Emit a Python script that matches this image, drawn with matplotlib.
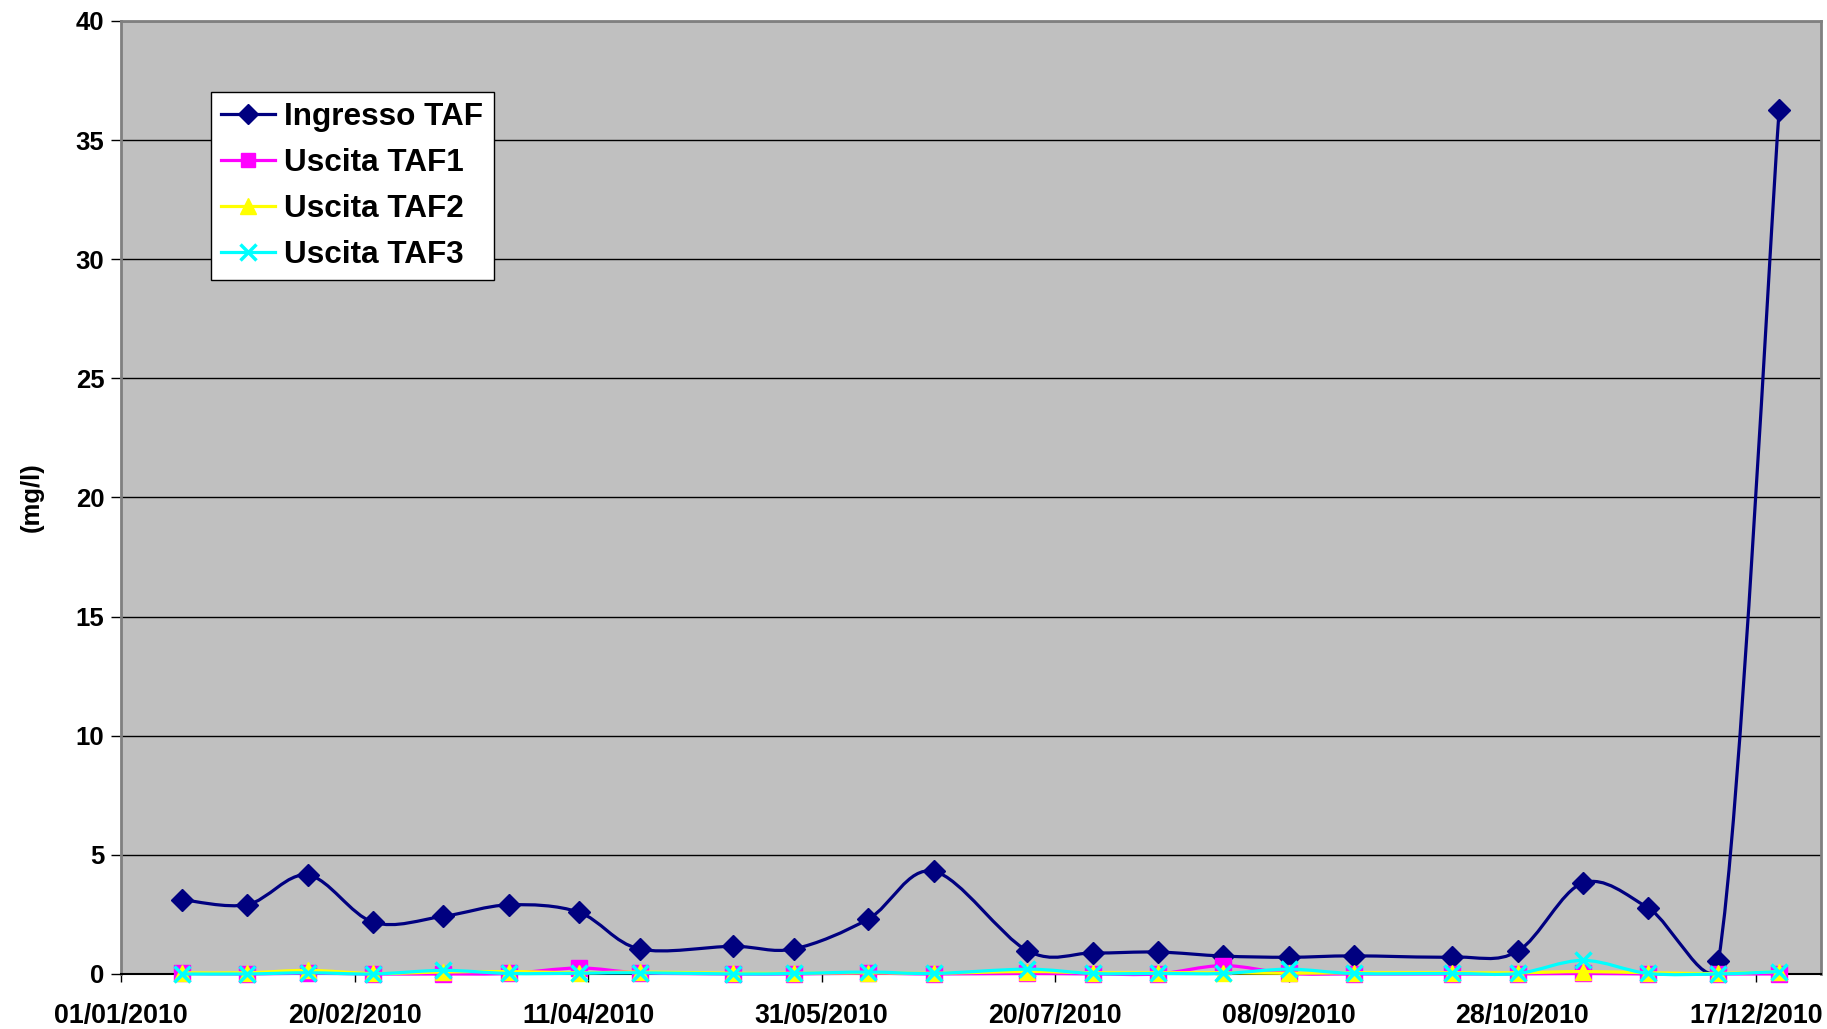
import numpy as np
import matplotlib
matplotlib.use("Agg")
import matplotlib.pyplot as plt
import matplotlib.dates as mdates
from matplotlib.path import Path
from matplotlib.patches import PathPatch
from matplotlib.lines import Line2D
from datetime import datetime

plt.rcParams['font.family'] = ['Liberation Sans', 'DejaVu Sans']
plt.rcParams['font.weight'] = 'bold'

# sampling dates
dates = ["14/01/2010", "28/01/2010", "10/02/2010", "24/02/2010", "11/03/2010",
         "25/03/2010", "09/04/2010", "22/04/2010", "12/05/2010", "25/05/2010",
         "10/06/2010", "24/06/2010", "14/07/2010", "28/07/2010", "11/08/2010",
         "25/08/2010", "08/09/2010", "22/09/2010", "13/10/2010", "27/10/2010",
         "10/11/2010", "24/11/2010", "09/12/2010", "22/12/2010"]

ingresso_taf = [3.12, 2.91, 4.15, 2.17, 2.42, 2.90, 2.59, 1.05, 1.16, 1.05,
                2.31, 4.31, 0.98, 0.88, 0.92, 0.75, 0.70, 0.76, 0.71, 0.95,
                3.82, 2.77, 0.55, 36.25]
uscita_taf1 = [0.02, 0.0, 0.03, 0.0, 0.0, 0.02, 0.25, 0.05, 0.0, 0.0,
               0.03, 0.0, 0.02, 0.0, 0.0, 0.35, 0.02, 0.0, 0.0, 0.0,
               0.02, 0.0, 0.0, 0.0]
uscita_taf2 = [0.05, 0.05, 0.15, 0.02, 0.08, 0.10, 0.05, 0.08, 0.03, 0.03,
               0.05, 0.03, 0.10, 0.05, 0.05, 0.05, 0.03, 0.05, 0.05, 0.05,
               0.10, 0.05, 0.02, 0.10]
uscita_taf3 = [0.0, 0.0, 0.05, 0.0, 0.15, 0.02, 0.03, 0.05, 0.0, 0.02,
               0.08, 0.02, 0.20, 0.02, 0.02, 0.02, 0.20, 0.02, 0.02, 0.02,
               0.57, 0.02, 0.0, 0.10]

x_ticks = ["01/01/2010", "20/02/2010", "11/04/2010", "31/05/2010",
           "20/07/2010", "08/09/2010", "28/10/2010", "17/12/2010"]
y_ticks = [0, 5, 10, 15, 20, 25, 30, 35, 40]


def to_num(labels):
    return mdates.date2num([datetime.strptime(d, "%d/%m/%Y") for d in labels])


def smooth_path(ax, x, y):
    # Excel-like smoothed line: cubic bezier through points, arms limited
    pts = ax.transData.transform(np.column_stack([x, y]))
    n = len(pts)
    verts = [pts[0]]
    codes = [Path.MOVETO]
    for i in range(n - 1):
        p0 = pts[max(i - 1, 0)]
        p1 = pts[i]
        p2 = pts[i + 1]
        p3 = pts[min(i + 2, n - 1)]
        seg = np.linalg.norm(p2 - p1)
        a = (p2 - p0) / 6
        b = (p3 - p1) / 6
        for arm in (a, b):
            ln = np.linalg.norm(arm)
            if ln > 0.5 * seg and ln > 0:
                arm *= 0.5 * seg / ln
        verts += [p1 + a, p2 - b, p2]
        codes += [Path.CURVE4] * 3
    verts = ax.transData.inverted().transform(np.array(verts))
    return Path(verts, codes)


fig = plt.figure(figsize=(18.27, 10.29), dpi=100)
ax = fig.add_axes([0.0663, 0.0535, 0.9305, 0.9261])
ax.set_facecolor('#C0C0C0')

x = to_num(dates)
ax.set_xlim(to_num(["01/01/2010"])[0], to_num(["31/12/2010"])[0])
ax.set_ylim(0, 40)

series = [
    ("Ingresso TAF", ingresso_taf, '#000080', 'D', 11, '#000080'),
    ("Uscita TAF1", uscita_taf1, '#FF00FF', 's', 11, '#FF00FF'),
    ("Uscita TAF2", uscita_taf2, '#FFFF00', '^', 12, '#FFFF00'),
    ("Uscita TAF3", uscita_taf3, '#00FFFF', 'x', 12, '#00FFFF'),
]

handles = []
for k, (name, vals, color, marker, ms, mc) in enumerate(series):
    path = smooth_path(ax, x, vals)
    ax.add_patch(PathPatch(path, facecolor='none', edgecolor=color, lw=2.3,
                           zorder=3 + 2 * k, clip_on=False))
    ax.plot(x, vals, linestyle='none', marker=marker, markersize=ms, color=mc,
            markeredgewidth=2.5 if marker == 'x' else 1, zorder=4 + 2 * k,
            clip_on=False)
    handles.append(Line2D([], [], color=color, lw=2.3, marker=marker,
                          markersize=ms - 1, markeredgewidth=2.5 if marker == 'x' else 1,
                          label=name))

# axes styling
ax.set_yticks(y_ticks)
ax.yaxis.grid(True, color='black', lw=1)
ax.set_axisbelow(True)
ax.set_xticks(to_num(x_ticks))
ax.xaxis.set_major_formatter(mdates.DateFormatter('%d/%m/%Y'))
ax.tick_params(axis='x', direction='out', length=6, width=1, pad=15, labelsize=19.3)
ax.tick_params(axis='y', direction='out', length=7, width=1, pad=5, labelsize=18.5)
for lab in ax.get_xticklabels() + ax.get_yticklabels():
    lab.set_fontweight('bold')

for side in ('top', 'right', 'left'):
    ax.spines[side].set_color('#808080')
    ax.spines[side].set_linewidth(2)
ax.spines['bottom'].set_color('black')
ax.spines['bottom'].set_linewidth(1.5)

ax.set_ylabel('(mg/l)', fontsize=18.5, fontweight='bold', labelpad=23)

leg = ax.legend(handles=handles, loc='upper left', bbox_to_anchor=(0.0528, 0.9255),
                borderaxespad=0, prop={'size': 22.7, 'weight': 'bold'},
                frameon=True, fancybox=False, edgecolor='black', framealpha=1,
                handlelength=1.7, handletextpad=0.3, labelspacing=0.5,
                borderpad=0.33)
leg.get_frame().set_linewidth(1)
leg.set_zorder(20)

plt.savefig('out.png', dpi=100)
